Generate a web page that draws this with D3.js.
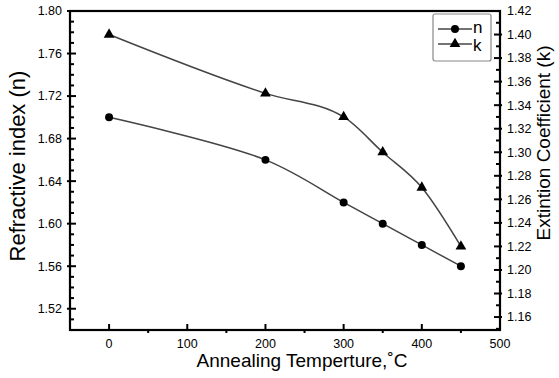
<!DOCTYPE html>
<html>
<head>
<meta charset="utf-8">
<script src="https://cdn.jsdelivr.net/npm/d3@7"></script>
<style>
  body { margin: 0; background: #fff; }
  svg { display: block; font-family: "Liberation Sans", Arial, sans-serif; }
</style>
</head>
<body>
<div id="chart"></div>
<script>
// data
const temps = [0, 200, 300, 350, 400, 450];
const nValues = [1.70, 1.66, 1.62, 1.60, 1.58, 1.56];
const kValues = [1.40, 1.35, 1.33, 1.30, 1.27, 1.22];
const xTicks = [0, 100, 200, 300, 400, 500];
const nTicks = [1.52, 1.56, 1.60, 1.64, 1.68, 1.72, 1.76, 1.80];
const kTicks = [1.16, 1.18, 1.20, 1.22, 1.24, 1.26, 1.28, 1.30, 1.32, 1.34, 1.36, 1.38, 1.40, 1.42];

const width = 559, height = 378;
const plotL = 70, plotR = 500, plotT = 11, plotB = 330;

const svg = d3.select('#chart').append('svg')
  .attr('width', width).attr('height', height);

const x = d3.scaleLinear().domain([-50, 500]).range([plotL, plotR]);
const yN = d3.scaleLinear().domain([1.50, 1.80]).range([plotB, plotT]);
const yK = d3.scaleLinear().domain([1.149, 1.42]).range([plotB, plotT]);

// ticks (inward)
const tickG = svg.append('g').attr('stroke', '#000').attr('stroke-width', 2);
// x major / minor
d3.range(0, 501, 50).forEach(v => {
  const major = v % 100 === 0;
  tickG.append('line').attr('x1', x(v)).attr('x2', x(v))
    .attr('y1', plotB).attr('y2', major ? plotB - 6 : plotB + 3);
});
// left ticks every 0.01
d3.range(1.51, 1.80, 0.01).forEach(v => {
  const major = Math.round(v * 100) % 4 === 0;
  tickG.append('line').attr('x1', plotL - (major ? 3 : 0)).attr('x2', plotL + (major ? 6 : 4))
    .attr('y1', yN(v)).attr('y2', yN(v));
});
// right ticks every 0.01
d3.range(1.15, 1.42, 0.01).forEach(v => {
  const major = Math.round(v * 100) % 2 === 0;
  tickG.append('line').attr('x1', plotR - (major ? 6 : 4)).attr('x2', plotR + (major ? 2 : 0))
    .attr('y1', yK(v)).attr('y2', yK(v));
});

// frame
svg.append('rect').attr('x', plotL).attr('y', plotT)
  .attr('width', plotR - plotL).attr('height', plotB - plotT)
  .attr('fill', 'none').attr('stroke', '#000').attr('stroke-width', 2.2);

// tick labels
svg.append('g').selectAll('text').data(xTicks).join('text')
  .attr('x', d => x(d)).attr('y', plotB + 18)
  .attr('text-anchor', 'middle').attr('font-size', 12.5).text(d => d);
svg.append('g').selectAll('text').data(nTicks).join('text')
  .attr('x', plotL - 8).attr('y', d => yN(d)).attr('dy', '0.35em')
  .attr('text-anchor', 'end').attr('font-size', 12.5).text(d => d.toFixed(2));
svg.append('g').selectAll('text').data(kTicks).join('text')
  .attr('x', plotR + 7).attr('y', d => yK(d)).attr('dy', '0.35em')
  .attr('text-anchor', 'start').attr('font-size', 12.5).text(d => d.toFixed(2));

// axis titles
svg.append('text').attr('x', 302).attr('y', 367)
  .attr('text-anchor', 'middle').attr('font-size', 19).text('Annealing Temperture,˚C');
svg.append('text').attr('transform', 'translate(25,166) rotate(-90)')
  .attr('text-anchor', 'middle').attr('font-size', 22).text('Refractive index (n)');
svg.append('text').attr('transform', 'translate(550,143) rotate(-90)')
  .attr('text-anchor', 'middle').attr('font-size', 19).text('Extintion Coefficient (k)');

// lines
const nData = temps.map((t, i) => [t, nValues[i]]);
const kData = temps.map((t, i) => [t, kValues[i]]);
const lineN = d3.line().x(d => x(d[0])).y(d => yN(d[1])).curve(d3.curveCatmullRom);
const lineK = d3.line().x(d => x(d[0])).y(d => yK(d[1])).curve(d3.curveMonotoneX);

svg.append('path').datum(nData).attr('d', lineN)
  .attr('fill', 'none').attr('stroke', '#444').attr('stroke-width', 1.5);
svg.append('path').datum(kData).attr('d', lineK)
  .attr('fill', 'none').attr('stroke', '#444').attr('stroke-width', 1.5);

const circle = d3.symbol().type(d3.symbolCircle).size(50);
const tri = d3.symbol().type(d3.symbolTriangle).size(50);

svg.append('g').selectAll('path').data(nData).join('path')
  .attr('transform', d => `translate(${x(d[0])},${yN(d[1])})`)
  .attr('d', circle).attr('fill', '#000');
svg.append('g').selectAll('path').data(kData).join('path')
  .attr('transform', d => `translate(${x(d[0])},${yK(d[1])})`)
  .attr('d', tri).attr('fill', '#000');

// legend
const lg = svg.append('g').attr('transform', 'translate(433,14)');
lg.append('rect').attr('width', 58).attr('height', 47).attr('rx', 2)
  .attr('fill', '#fff').attr('stroke', '#888').attr('stroke-width', 1.2);
[['n', circle, 15, 19], ['k', tri, 30, 37]].forEach(([label, sym, yy, ty]) => {
  lg.append('line').attr('x1', 5).attr('x2', 39).attr('y1', yy).attr('y2', yy)
    .attr('stroke', '#444').attr('stroke-width', 1.5);
  lg.append('path').attr('transform', `translate(22,${yy})`).attr('d', sym).attr('fill', '#000');
  lg.append('text').attr('x', 40).attr('y', ty)
    .attr('font-size', 17).text(label);
});
</script>
</body>
</html>
